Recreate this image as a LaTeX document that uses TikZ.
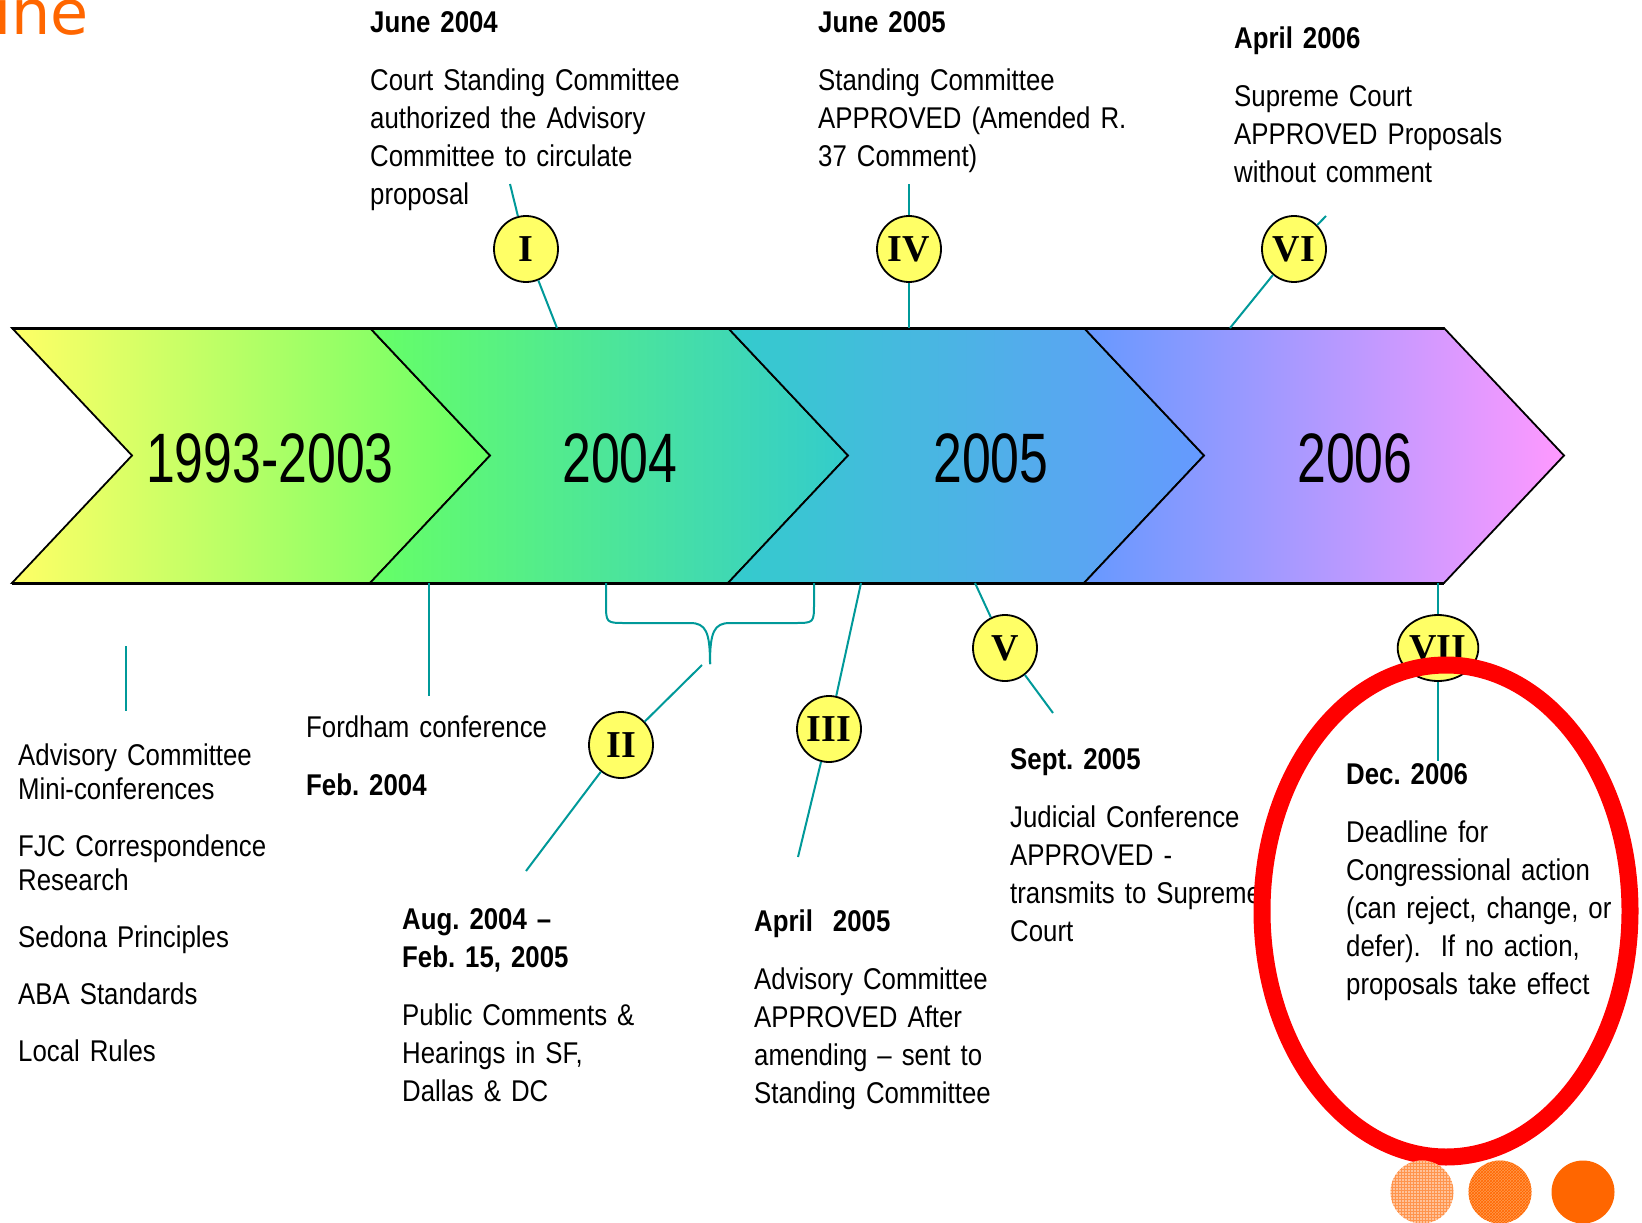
\documentclass[tikz,border=0pt]{standalone}
\usepackage{fontspec}
\setmainfont{Liberation Sans}[FakeStretch=0.86, WordSpace=0.85]
\newfontfamily\yearfont{Liberation Sans}[FakeStretch=0.74]
\newfontfamily\numfont{Liberation Serif}
\newfontfamily\titlefont{DejaVu Sans}
\usetikzlibrary{shapes.geometric, patterns}
\frenchspacing

\definecolor{tealline}{HTML}{009999}
\definecolor{numfill}{HTML}{FFFF66}
\definecolor{cyel}{HTML}{FFFF66}
\definecolor{cgrn}{HTML}{66FF66}
\definecolor{ctea}{HTML}{33CCCC}
\definecolor{cblu}{HTML}{6699FF}
\definecolor{cpnk}{HTML}{FF99FF}
\definecolor{titleor}{HTML}{FF6600}
\definecolor{dotlight}{HTML}{FFC299}
\definecolor{dotmid}{HTML}{FF9A4D}

\begin{document}
\begin{tikzpicture}[x=1pt, y=-1pt,
    chev/.style={draw, line width=1.8, line join=miter},
    yearlbl/.style={anchor=base, inner sep=0, font=\yearfont\fontsize{70}{70}\selectfont},
    numcircle/.style={ellipse, draw, line width=1.8, fill=numfill, minimum width=64,
      minimum height=66, inner sep=0, font=\numfont\bfseries\fontsize{38}{38}\selectfont},
    link/.style={tealline, line width=2},
    note/.style={anchor=base west, inner sep=0, align=left, text width=420,
      font=\fontsize{30}{38}\selectfont}]
  \useasboundingbox (0,0) rectangle (1642,1223);

  % Chevrons
  \draw[chev, left color=cyel, right color=cgrn] (12,328) -- (370,328) -- (490,455.5)
    -- (370,583) -- (12,583) -- (132,455.5) -- cycle;
  \draw[chev, left color=cgrn, right color=ctea] (370,328) -- (728,328) -- (848,455.5)
    -- (728,583) -- (370,583) -- (490,455.5) -- cycle;
  \draw[chev, left color=ctea, right color=cblu] (728,328) -- (1084,328) -- (1204,455.5)
    -- (1084,583) -- (728,583) -- (848,455.5) -- cycle;
  \draw[chev, left color=cblu, right color=cpnk] (1084,328) -- (1444,328) -- (1564,455.5)
    -- (1444,583) -- (1084,583) -- (1204,455.5) -- cycle;
  \draw[line width=3] (12,328) -- (1444,328);
  \draw[line width=3] (12,583) -- (1444,583);

  % Years
  \node[yearlbl] (yrold) at (270,482) {1993-2003};
  \node[yearlbl] (yrfour) at (620,482) {2004};
  \node[yearlbl] (yrfive) at (991,482) {2005};
  \node[yearlbl] (yrsix) at (1355,482) {2006};

  % Steps
  \node[numcircle] (numI) at (526,249) {I};
  \node[numcircle] (numII) at (621,745) {II};
  \node[numcircle] (numIII) at (829,729) {III};
  \node[numcircle] (numIV) at (909,249) {IV};
  \node[numcircle] (numV) at (1005,648) {V};
  \node[numcircle] (numVI) at (1294,249) {VI};
  \node[numcircle] (numVII) at (1438,648) {VII};

  % Links
  \coordinate (Itop) at (510,184);
  \coordinate (Iband) at (557,328);
  \coordinate (IVtop) at (909,184);
  \coordinate (IVband) at (909,328);
  \coordinate (VItop) at (1326,216);
  \coordinate (VIband) at (1230,328);
  \coordinate (IItop) at (702,665);
  \coordinate (IIbot) at (526,871);
  \coordinate (IIIband) at (861,583);
  \coordinate (IIIbot) at (798,857);
  \coordinate (Vband) at (975,583);
  \coordinate (Vbot) at (1053,713);
  \coordinate (VIIband) at (1438,583);
  \coordinate (VIIbot) at (1438,761);
  \coordinate (fordband) at (429,583);
  \coordinate (fordend) at (429,696);
  \coordinate (listtop) at (126,646);
  \coordinate (listend) at (126,711);
  \draw[link] (Itop) -- (numI) -- (Iband);
  \draw[link] (IVtop) -- (numIV) -- (IVband);
  \draw[link] (VItop) -- (numVI) -- (VIband);
  \draw[link] (IItop) -- (numII) -- (IIbot);
  \draw[link] (IIIband) -- (numIII) -- (IIIbot);
  \draw[link] (Vband) -- (numV) -- (Vbot);
  \draw[link] (VIIband) -- (numVII) -- (VIIbot);
  \draw[link] (fordband) -- (fordend);
  \draw[link] (listtop) -- (listend);
  \draw[link] (606,583) -- (606,603) .. controls (606,623) and (606,623) .. (626,623)
    -- (690,623) .. controls (706,623) and (710,632) .. (710,664);
  \draw[link] (710,664) .. controls (710,632) and (714,623) .. (730,623)
    -- (794,623) .. controls (814,623) and (814,623) .. (814,603) -- (814,583);

  % Texts
  \node[note] (junefour) at (370,33) {\textbf{June 2004}\\[20pt]
    Court Standing Committee\\ authorized the Advisory\\ Committee to circulate\\ proposal};
  \node[note] (junefive) at (818,33) {\textbf{June 2005}\\[20pt]
    Standing Committee\\ APPROVED (Amended R.\\ 37 Comment)};
  \node[note] (aprsix) at (1234,49) {\textbf{April 2006}\\[20pt]
    Supreme Court\\ APPROVED Proposals\\ without comment};
  \node[note, font=\fontsize{30}{34}\selectfont] (sources) at (18,765) {Advisory Committee\\
    Mini-conferences\\[23pt] FJC Correspondence\\ Research\\[23pt] Sedona Principles\\[23pt]
    ABA Standards\\[23pt] Local Rules};
  \node[note] (fordham) at (306,737) {Fordham conference\\[20pt] \textbf{Feb. 2004}};
  \node[note] (augfour) at (402,929) {\textbf{Aug. 2004 –}\\ \textbf{Feb. 15, 2005}\\[20pt]
    Public Comments \&\\ Hearings in SF,\\ Dallas \& DC};
  \node[note] (aprfive) at (754,931) {\textbf{April\ \ 2005}\\[20pt]
    Advisory Committee\\ APPROVED After\\ amending – sent to\\ Standing Committee};
  \node[note] (septfive) at (1010,769) {\textbf{Sept. 2005}\\[20pt]
    Judicial Conference\\ APPROVED -\\ transmits to Supreme\\ Court};
  \node[note] (decsix) at (1346,784) {\textbf{Dec. 2006}\\[20pt]
    Deadline for\\ Congressional action\\ (can reject, change, or\\
    defer).\ \ If no action,\\ proposals take effect};

  % Highlight
  \draw[red, line width=17] (1446,911) ellipse [x radius=184, y radius=246];

  % Dots
  \path[fill=dotlight, postaction={pattern=grid, pattern color=titleor!70}] (1422,1192) circle [radius=31.5];
  \path[fill=dotmid, postaction={pattern=crosshatch, pattern color=titleor}] (1500,1192) circle [radius=31.5];
  \fill[titleor] (1583,1192) circle [radius=31.5];

  % Title
  \node[anchor=base west, inner sep=0, text=titleor, font=\titlefont\fontsize{62}{62}\selectfont]
    (title) at (-6,35) {ine};
\end{tikzpicture}
\end{document}
